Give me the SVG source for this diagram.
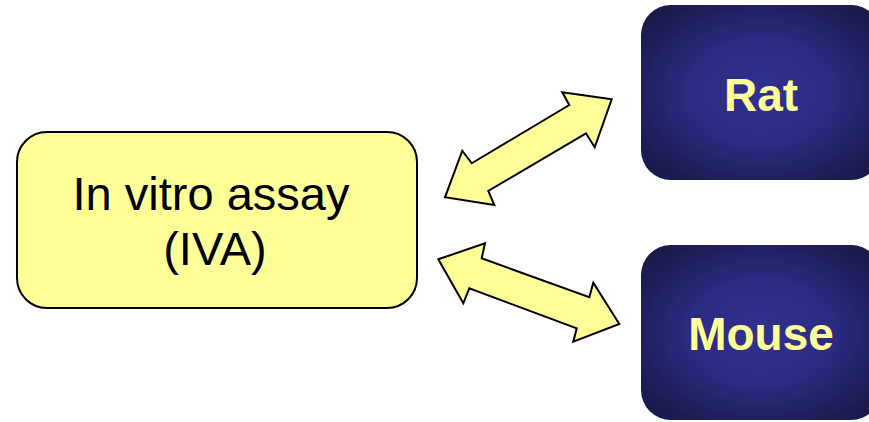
<svg xmlns="http://www.w3.org/2000/svg" width="869" height="422" viewBox="0 0 869 422">
  <defs>
    <radialGradient id="dark" cx="0.5" cy="0.5" r="0.62">
      <stop offset="0" stop-color="#30308f"/>
      <stop offset="0.45" stop-color="#2c2c85"/>
      <stop offset="1" stop-color="#1a1a4c"/>
    </radialGradient>
    <style>
      .yel { fill: #ffff99; stroke: #000; stroke-width: 2; stroke-linejoin: miter; }
      .lbl { font-family: "Liberation Sans", Arial, sans-serif; text-anchor: middle; }
      .big { font-size: 47px; fill: #000; }
      .bold { font-size: 46px; font-weight: bold; fill: #ffff99; }
      .dark { fill: url(#dark); }
    </style>
  </defs>
  <rect width="869" height="422" fill="#fff"/>
  <g id="iva">
    <rect class="yel" x="17" y="132" width="400" height="176" rx="30" ry="30"/>
    <text class="lbl big" x="211" y="210">In vitro assay</text>
    <text class="lbl big" x="215" y="265">(IVA)</text>
  </g>
  <g id="rat">
    <rect class="dark" x="641" y="5" width="240" height="175" rx="30" ry="30"/>
    <text class="lbl bold" x="761" y="111">Rat</text>
  </g>
  <g id="mouse">
    <rect class="dark" x="641" y="245" width="240" height="175" rx="30" ry="30"/>
    <text class="lbl bold" x="761" y="350">Mouse</text>
  </g>
  <g id="connectors">
    <polygon class="yel" points="611.7,99.3 562.3,92.3 569.3,105 471.7,163.3 462.3,150.7 445,197.3 494.3,205 488.3,191 586,133.3 594.7,147.3"/>
    <polygon class="yel" points="438.3,259.3 485,243.3 481.7,258.3 589.3,297.3 593.3,282.7 619.3,324 573.3,341.7 576.7,328.3 469.3,288.3 463.3,303.3"/>
  </g>
</svg>
